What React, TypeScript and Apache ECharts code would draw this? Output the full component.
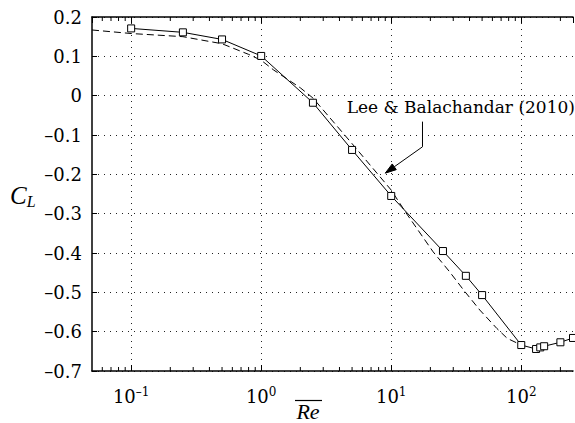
import React, { useEffect, useRef } from 'react';
import * as echarts from 'echarts';

// Present simulation (solid line with square markers)
const reSolid = [0.1, 0.25, 0.5, 1, 2.5, 5, 10, 25, 37.5, 50, 100, 130, 140, 150, 200, 250];
const clSolid = [0.171, 0.161, 0.143, 0.101, -0.018, -0.138, -0.255, -0.395, -0.458, -0.507, -0.634, -0.644, -0.640, -0.637, -0.627, -0.616];

// Lee & Balachandar (2010) (dashed line)
const reLee = [0.05, 0.1, 0.25, 0.5, 0.8, 1, 1.25, 2, 2.5, 5, 10, 13, 21, 28, 36, 48, 65, 78, 93];
const clLee = [0.167, 0.158, 0.150, 0.132, 0.105, 0.09, 0.065, 0.02, -0.006, -0.122, -0.24, -0.298, -0.397, -0.447, -0.494, -0.545, -0.592, -0.617, -0.629];

const xMin = 0.05;
const xMax = 250;
const yMin = -0.7;
const yMax = 0.2;
const yStep = 0.1;

const annotationText = 'Lee & Balachandar (2010)';
const annotTip = [9.0, -0.197];
const annotElbow = [17.4, -0.13];
const annotTop = [17.4, -0.066];
const annotTextAnchor = [4.55, -0.029];

const FONT_I = 'Liberation Serif, DejaVu Serif';
const FONT_R = 'DejaVu Serif';

const minorTicks: number[] = [];
for (let d = -2; d <= 2; d++) {
  for (let m = 2; m <= 9; m++) {
    const v = m * Math.pow(10, d);
    if (v > xMin * 1.0001 && v < xMax * 0.9999) minorTicks.push(v);
  }
}

const SUP_MINUS = '\u2013';

export default function App() {
  const ref = useRef<HTMLDivElement>(null);
  useEffect(() => {
    document.body.style.margin = '0';
    const chart = echarts.init(ref.current!, undefined, { renderer: 'svg' });
    const dotted = { color: '#222', width: 1, type: [1, 5] as any };
    const xLabelFmt = (v: number) => {
      const lg = Math.log10(v);
      const e = Math.round(lg);
      if (Math.abs(lg - e) > 0.01) return '';
      const es = e < 0 ? SUP_MINUS + Math.abs(e) : String(e);
      return `{b|10}{s|${es}}`;
    };
    chart.setOption({
      animation: false,
      backgroundColor: '#fff',
      grid: { left: 92, right: 2, top: 17, bottom: 52, containLabel: false },
      xAxis: [
        {
          type: 'log', logBase: 10, min: xMin, max: xMax,
          axisLine: { show: true, onZero: false, lineStyle: { color: '#000', width: 1.5 } },
          axisTick: { show: true, inside: true, length: 6, lineStyle: { color: '#000' } },
          axisLabel: {
            formatter: xLabelFmt, showMinLabel: false, showMaxLabel: false, margin: 15,
            color: '#000', fontFamily: FONT_R,
            rich: {
              b: { fontSize: 18, fontFamily: FONT_R, color: '#000', lineHeight: 20 },
              s: { fontSize: 12, fontFamily: FONT_R, color: '#000', verticalAlign: 'top', lineHeight: 12 },
            },
          },
          splitLine: { show: true, showMinLine: false, showMaxLine: false, lineStyle: dotted },
        },
        {
          type: 'log', logBase: 10, min: xMin, max: xMax, position: 'top',
          axisLine: { show: true, onZero: false, lineStyle: { color: '#000', width: 1.5 } },
          axisTick: { show: true, inside: true, length: 6, lineStyle: { color: '#000' } },
          axisLabel: { show: false },
          splitLine: { show: false },
        },
      ],
      yAxis: {
        type: 'value', min: yMin, max: yMax, interval: yStep,
        axisLine: { show: true, onZero: false, lineStyle: { color: '#000', width: 1.5 } },
        axisTick: { show: true, inside: true, length: 5, lineStyle: { color: '#000' } },
        axisLabel: {
          margin: 10, color: '#000', fontSize: 18, fontFamily: FONT_R,
          formatter: (v: number) => {
            const r = Math.round(v * 10) / 10;
            if (r === 0) return '0';
            const s = Math.abs(r).toFixed(1);
            return r < 0 ? '\u2013' + s : s;
          },
        },
        splitLine: { show: true, lineStyle: dotted },
      },
      series: [
        {
          type: 'line', name: 'Lee & Balachandar (2010)',
          data: reLee.map((x, i) => [x, clLee[i]]),
          showSymbol: false, symbol: 'none',
          lineStyle: { color: '#000', width: 1, type: [7, 4] },
          z: 3,
        },
        {
          type: 'line', name: 'present',
          data: reSolid.map((x, i) => [x, clSolid[i]]),
          symbol: 'rect', symbolSize: 7,
          itemStyle: { color: '#fff', borderColor: '#000', borderWidth: 1 },
          lineStyle: { color: '#000', width: 1 },
          z: 4,
        },
        {
          type: 'custom', silent: true, clip: false, z: 5,
          data: minorTicks.map((v) => [v, yMin]),
          encode: { x: 0, y: 1 },
          renderItem: (_p: any, api: any) => {
            const x = api.value(0);
            const b = api.coord([x, yMin]);
            const t = api.coord([x, yMax]);
            return {
              type: 'group',
              children: [
                { type: 'line', shape: { x1: b[0], y1: b[1], x2: b[0], y2: b[1] - 4 }, style: { stroke: '#000', lineWidth: 1 } },
                { type: 'line', shape: { x1: t[0], y1: t[1], x2: t[0], y2: t[1] + 4 }, style: { stroke: '#000', lineWidth: 1 } },
              ],
            };
          },
        },
      ],
    });

    const px = (p: number[]) => chart.convertToPixel({ xAxisIndex: 0, yAxisIndex: 0 }, p) as number[];
    const tip = px(annotTip);
    const elbow = px(annotElbow);
    const top = px(annotTop);
    const tpos = px(annotTextAnchor);
    const dx = tip[0] - elbow[0];
    const dy = tip[1] - elbow[1];
    const len = Math.sqrt(dx * dx + dy * dy);
    const ux = dx / len, uy = dy / len;
    const aL = 11, aW = 3.5;
    const base = [tip[0] - ux * aL, tip[1] - uy * aL];
    const p1 = [base[0] - uy * aW, base[1] + ux * aW];
    const p2 = [base[0] + uy * aW, base[1] - ux * aW];

    chart.setOption({
      graphic: [
        {
          type: 'text', x: tpos[0], y: tpos[1],
          style: { text: annotationText, fontSize: 17, fontFamily: FONT_R, fill: '#000', align: 'left', verticalAlign: 'middle' },
          z: 10,
        },
        {
          type: 'polyline', shape: { points: [top, elbow, base] },
          style: { stroke: '#000', lineWidth: 1, fill: 'none' }, z: 10,
        },
        {
          type: 'polygon', shape: { points: [tip, p1, p2] },
          style: { fill: '#000', stroke: '#000', lineWidth: 1 }, z: 10,
        },
        {
          type: 'text', x: 10, y: 195,
          style: {
            text: '{c|C}{l|L}', verticalAlign: 'middle', align: 'left',
            rich: {
              c: { fontSize: 25, fontStyle: 'italic', fontFamily: FONT_I, fill: '#000', lineHeight: 28 },
              l: { fontSize: 16, fontStyle: 'italic', fontFamily: FONT_I, fill: '#000', verticalAlign: 'bottom', lineHeight: 16 },
            },
          },
        },
        {
          type: 'text', x: 308, y: 411,
          style: { text: 'Re', fontSize: 22, fontStyle: 'italic', fontFamily: FONT_I, fill: '#000', align: 'center', verticalAlign: 'middle' },
        },
        {
          type: 'line', shape: { x1: 295, y1: 400.5, x2: 322, y2: 400.5 },
          style: { stroke: '#000', lineWidth: 1.2 },
        },
      ],
    });
    return () => chart.dispose();
  }, []);
  return <div ref={ref} style={{ position: 'fixed', left: 0, top: 0, width: 575, height: 423 }} />;
}
